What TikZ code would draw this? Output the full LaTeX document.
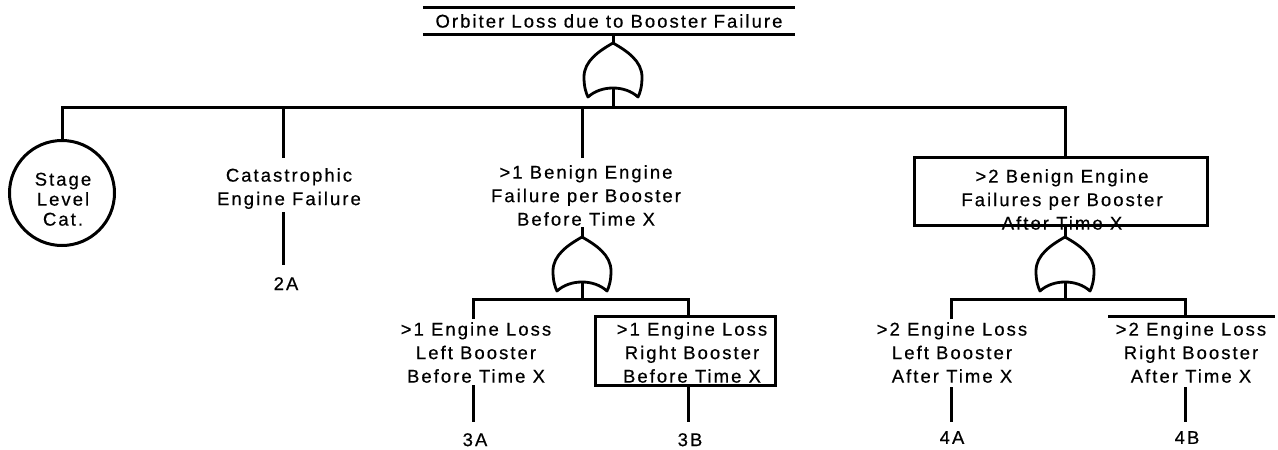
\documentclass[tikz,border=0pt]{standalone}
\usepackage{fontspec}
\setmainfont{Liberation Sans}[LetterSpace=11, FakeBold=0.5]
\begin{document}
\begin{tikzpicture}[x=1pt,y=-1pt,
  wire/.style={line width=3pt},
  gateline/.style={line width=2.8pt, line join=round},
  txt/.style={inner sep=0pt, align=center, font=\fontsize{18.5}{23.5}\selectfont, anchor=north},
  ctxt/.style={inner sep=0pt, align=center, font=\fontsize{18.5}{20}\selectfont, anchor=north},
  lbl/.style={inner sep=0pt, font=\fontsize{18.5}{23.5}\selectfont, anchor=north},
  boxnode/.style={draw, line width=3pt, inner sep=0pt},
  orgate/.pic={
    \draw[gateline] (0,0) .. controls (-14,8) and (-29,18) .. (-29,34)
      .. controls (-29,44) and (-27,50) .. (-25,54)
      .. controls (-12,42) and (12,42) .. (25,54)
      .. controls (27,50) and (29,44) .. (29,34)
      .. controls (29,18) and (14,8) .. (0,0) -- cycle;
    \coordinate (-top) at (0,0);
    \coordinate (-bot) at (0,45);
  }]
\useasboundingbox (0,0) rectangle (1278,450);

% title
\node[inner sep=0pt, minimum width=372pt, minimum height=26pt, font=\fontsize{18.5}{23.5}\selectfont] (title) at (609,21) {Orbiter Loss due to Booster Failure};
\draw[wire] (title.north west) -- (title.north east);
\draw[wire] (title.south west) -- (title.south east);

% top gate
\pic (g1) at (613,43) {orgate};
\draw[wire] (g1-top |- title.south) -- (g1-top);
\coordinate (bus1) at (613,107);
\coordinate (j4) at (1065,107);
\draw[wire] (g1-bot) -- (bus1);

% stage level
\node[draw, circle, line width=3pt, minimum size=105pt, inner sep=0pt] (circ) at (62,193) {};
\node[ctxt] (circtxt) at (63,172.5) {Stage\\Level\\Cat.};

% box 4
\node[boxnode, minimum width=293pt, minimum height=68pt] (box4) at (1060.5,191) {};
\node[txt] (t4) at (1062,169) {>2 Benign Engine\\Failures per Booster\\After Time X};

\draw[wire] (circ.north) -- (circ.north |- bus1) -- (j4) -- (j4 |- box4.north);

% catastrophic
\node[txt] (t2) at (289,168) {Catastrophic\\Engine Failure};
\coordinate (c2a) at (283,158);
\draw[wire] (c2a |- bus1) -- (c2a);
\coordinate (c2b) at (283,212);
\coordinate (c2c) at (283,265);
\draw[wire] (c2b) -- (c2c);
\node[lbl] (l2A) at (286,277) {2A};

% node 3
\node[txt] (t3) at (586,165) {>1 Benign Engine\\Failure per Booster\\Before Time X};
\coordinate (c3a) at (582,158);
\draw[wire] (c3a |- bus1) -- (c3a);
\pic (g3) at (582,237) {orgate};
\coordinate (c3b) at (582,227);
\draw[wire] (c3b) -- (g3-top);
\coordinate (bus3) at (582,299);
\draw[wire] (g3-bot) -- (bus3);

% 3A
\node[txt] (t3A) at (476,322) {>1 Engine Loss\\Left Booster\\Before Time X};
\coordinate (c3Aa) at (473,319);
\coordinate (c3Ab) at (473,385);
\coordinate (c3Ac) at (473,422);
\node[lbl] (l3A) at (475,433) {3A};

% 3B
\node[boxnode, minimum width=180pt, minimum height=69pt] (box3B) at (685,350.5) {};
\node[txt] (t3B) at (692,322) {>1 Engine Loss\\Right Booster\\Before Time X};
\coordinate (c3B) at (688,299);
\coordinate (c3Bc) at (688,422);
\node[lbl] (l3B) at (690,433) {3B};

\draw[wire] (c3Aa) -- (c3Aa |- bus3) -- (c3B) -- (c3B |- box3B.north);
\draw[wire] (c3Ab) -- (c3Ac);
\draw[wire] (c3Bc |- box3B.south) -- (c3Bc);

% gate 4
\pic (g4) at (1065,237) {orgate};
\draw[wire] (g4-top |- box4.south) -- (g4-top);
\coordinate (bus4) at (1065,299);
\draw[wire] (g4-bot) -- (bus4);

% 4A
\node[txt] (t4A) at (952,322) {>2 Engine Loss\\Left Booster\\After Time X};
\coordinate (c4Aa) at (951,319);
\coordinate (c4Ab) at (951,387);
\coordinate (c4Ac) at (951,422);
\node[lbl] (l4A) at (952,431) {4A};

% 4B
\node[txt] (t4B) at (1191,322) {>2 Engine Loss\\Right Booster\\After Time X};
\coordinate (c4Ba) at (1185,316);
\coordinate (c4Bb) at (1185,387);
\coordinate (c4Bc) at (1185,422);
\coordinate (bar4Bl) at (1108,316);
\coordinate (bar4Br) at (1275,316);
\node[lbl] (l4B) at (1187,431) {4B};

\draw[wire] (c4Aa) -- (c4Aa |- bus4) -- (c4Ba |- bus4) -- (c4Ba);
\draw[wire] (bar4Bl) -- (bar4Br);
\draw[wire] (c4Ab) -- (c4Ac);
\draw[wire] (c4Bb) -- (c4Bc);
\end{tikzpicture}
\end{document}
